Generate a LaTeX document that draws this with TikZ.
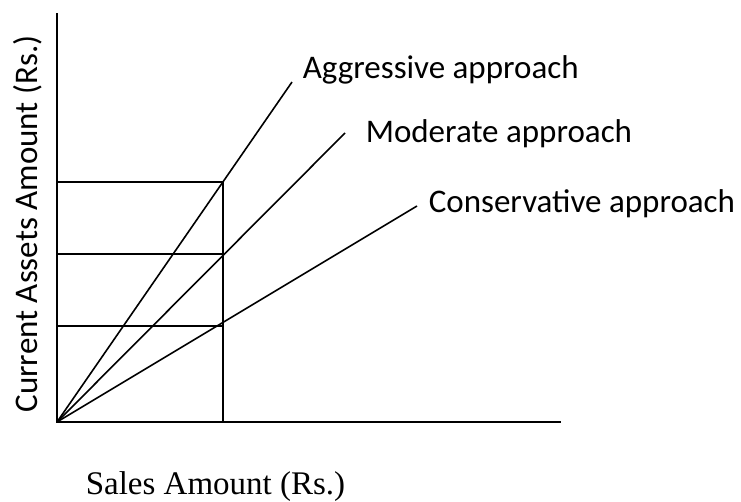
\documentclass[tikz,border=0pt]{standalone}
\usepackage{fontspec}
\setmainfont{Liberation Serif}
\newfontfamily\calibrifont{Carlito}
\begin{document}
\begin{tikzpicture}[x=1pt, y=-1pt, line width=1.6pt,
  approach/.style={font=\calibrifont\fontsize{33}{40}\selectfont, inner sep=0pt, anchor=base west}]
  \useasboundingbox (0,0) rectangle (741,501);

  % axes and grid points
  \coordinate (O) at (57,422);
  \coordinate (Ytop) at (57,13);
  \coordinate (Xend) at (561,422);
  \coordinate (S) at (223,422);
  \coordinate (Ya) at (57,182);
  \coordinate (Ym) at (57,254);
  \coordinate (Yc) at (57,326);
  \coordinate (Pa) at (223,182);
  \coordinate (Pm) at (223,254);
  \coordinate (Pc) at (223,326);
  \coordinate (Ea) at (292,82);
  \coordinate (Em) at (345,133);
  \coordinate (Ec) at (417,206);

  \node[approach] (Agg) at (302,78) {Aggressive approach};
  \node[approach] (Mod) at (365,142) {Moderate approach};
  \node[approach] (Con) at (428,212) {Conservative approach};

  \node[font=\calibrifont\fontsize{33}{40}\selectfont, inner sep=0pt, rotate=90, anchor=base] (Ylab) at (37,224) {Current Assets Amount (Rs.)};
  \node[font=\fontsize{33}{40}\selectfont, inner sep=0pt, anchor=base west] (Xlab) at (85,494) {Sales Amount (Rs.)};

  \draw (Ytop) -- (O) -- (Xend);
  \draw (Ya) -- (Pa) -- (S);
  \draw (Ym) -- (Pm);
  \draw (Yc) -- (Pc);

  \draw (O) -- (Ea);
  \draw (O) -- (Em);
  \draw (O) -- (Ec);
\end{tikzpicture}
\end{document}
